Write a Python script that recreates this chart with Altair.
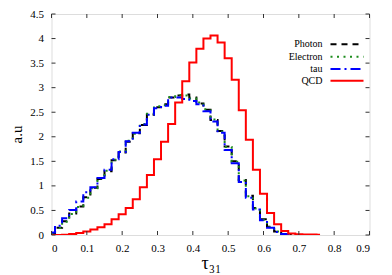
import altair as alt
import pandas as pd

# ---- data ----
bin_centers = [0.00, 0.02, 0.04, 0.06, 0.08, 0.10, 0.12, 0.14, 0.16, 0.18,
               0.20, 0.22, 0.24, 0.26, 0.28, 0.30, 0.32, 0.34, 0.36, 0.38,
               0.40, 0.42, 0.44, 0.46, 0.48, 0.50, 0.52, 0.54, 0.56, 0.58,
               0.60, 0.62, 0.64, 0.66, 0.68, 0.70, 0.72, 0.74, 0.76]

photon = [0.03, 0.15, 0.28, 0.44, 0.58, 0.77, 0.96, 1.14, 1.30, 1.52,
          1.68, 1.90, 2.07, 2.24, 2.45, 2.60, 2.66, 2.80, 2.84, 2.86,
          2.80, 2.68, 2.55, 2.34, 2.12, 1.80, 1.50, 1.12, 0.80, 0.55,
          0.32, 0.17, 0.07, 0.02, 0.01]
electron = [0.03, 0.14, 0.27, 0.43, 0.57, 0.76, 0.95, 1.15, 1.31, 1.53,
            1.70, 1.92, 2.06, 2.26, 2.47, 2.62, 2.64, 2.81, 2.85, 2.84,
            2.78, 2.70, 2.56, 2.35, 2.11, 1.79, 1.49, 1.11, 0.79, 0.54,
            0.31, 0.16, 0.07, 0.02, 0.01]
tau = [0.05, 0.19, 0.34, 0.51, 0.68, 0.87, 0.97, 1.16, 1.33, 1.54,
       1.69, 1.91, 2.08, 2.25, 2.45, 2.58, 2.63, 2.80, 2.80, 2.77,
       2.73, 2.66, 2.52, 2.31, 2.08, 1.73, 1.46, 1.08, 0.76, 0.52,
       0.30, 0.15, 0.06, 0.02, 0.01]
qcd = [0.0, 0.0, 0.005, 0.02, 0.04, 0.07, 0.11, 0.16, 0.22, 0.32,
       0.42, 0.55, 0.73, 0.97, 1.22, 1.54, 1.90, 2.26, 2.70, 3.13,
       3.51, 3.79, 4.00, 4.06, 3.92, 3.60, 3.16, 2.54, 1.94, 1.33,
       0.84, 0.45, 0.22, 0.08, 0.03, 0.015, 0.01, 0.008, 0.005]

series_names = ["Photon", "Electron", "tau", "QCD"]
series_values = [photon, electron, tau, qcd]
series_colors = ["#000000", "#1c8c1c", "#0000ff", "#ff0000"]
series_dashes = [[6, 5], [2, 4.5], [10, 4, 2, 4], None]

x_ticks = [0, 0.1, 0.2, 0.3, 0.4, 0.5, 0.6, 0.7, 0.8, 0.9]
y_ticks = [0, 0.5, 1, 1.5, 2, 2.5, 3, 3.5, 4, 4.5]

# ---- layout ----
W, H = 318, 221
SERIF = "Liberation Serif"
FRAME = "#333333"
TICK = 4
legend_y = [30.3, 42.7, 55.0, 66.7]
legend_text_x = 271
legend_line_x = (279, 312)

xscale = alt.Scale(domain=[0, 0.9], nice=False, zero=False)
yscale = alt.Scale(domain=[0, 4.5], nice=False, zero=False)

x_axis = alt.Axis(values=x_ticks, format="~g", domain=False, ticks=False, grid=False,
                  labelFont=SERIF, labelFontSize=11, labelColor="black", labelPadding=7,
                  title="τ₃₁", titleFont=SERIF, titleFontSize=18, titleFontWeight="normal",
                  titleColor="black", titleX=159.5, titleY=33, titleAlign="center",
                  titleBaseline="alphabetic")
y_axis = alt.Axis(values=y_ticks, format="~g", domain=False, ticks=False, grid=False,
                  labelFont=SERIF, labelFontSize=11, labelColor="black", labelPadding=8,
                  title="a.u", titleFont=SERIF, titleFontSize=15, titleFontWeight="normal",
                  titleColor="black", titleX=-30, titleY=120, titleAngle=270,
                  titleAlign="center", titleBaseline="alphabetic")

X = lambda f: alt.X(f, scale=xscale, axis=x_axis)
Y = lambda f: alt.Y(f, scale=yscale, axis=y_axis)

layers = []
for name, vals, color, dash in zip(series_names, series_values, series_colors, series_dashes):
    df = pd.DataFrame({"x": bin_centers[:len(vals)], "y": vals, "series": name})
    mk = dict(interpolate="step", color=color, strokeWidth=2, clip=True)
    if dash:
        mk["strokeDash"] = dash
    layers.append(alt.Chart(df).mark_line(**mk).encode(x=X("x:Q"), y=Y("y:Q")))

# inward ticks on all four sides (gnuplot style)
xt = pd.DataFrame({"x": x_ticks})
yt = pd.DataFrame({"y": y_ticks})
for y0, y1 in [(H, H - TICK), (0, TICK)]:
    layers.append(alt.Chart(xt).mark_rule(color=FRAME, strokeWidth=1).encode(
        x=X("x:Q"), y=alt.value(y0), y2=alt.value(y1)))
for x0, x1 in [(0, TICK), (W, W - TICK)]:
    layers.append(alt.Chart(yt).mark_rule(color=FRAME, strokeWidth=1).encode(
        y=Y("y:Q"), x=alt.value(x0), x2=alt.value(x1)))

# legend (labels left of the line samples)
for i, (name, color, dash) in enumerate(zip(series_names, series_colors, series_dashes)):
    row = pd.DataFrame({"label": [name]})
    layers.append(alt.Chart(row).mark_text(align="right", baseline="middle", font=SERIF,
                                           fontSize=10, color="black").encode(
        text="label:N", x=alt.value(legend_text_x), y=alt.value(legend_y[i])))
    rk = dict(color=color, strokeWidth=2)
    if dash:
        rk["strokeDash"] = dash
    layers.append(alt.Chart(row).mark_rule(**rk).encode(
        x=alt.value(legend_line_x[0]), x2=alt.value(legend_line_x[1]), y=alt.value(legend_y[i])))

chart = alt.layer(*layers).properties(
    width=W, height=H,
    autosize=alt.AutoSizeParams(type="none"),
    padding={"left": 43.5, "top": 6, "right": 14, "bottom": 38},
).configure_view(stroke=FRAME, strokeWidth=1).configure(background="white")

chart.save("out.html", embed_options={"renderer": "svg", "actions": False})
